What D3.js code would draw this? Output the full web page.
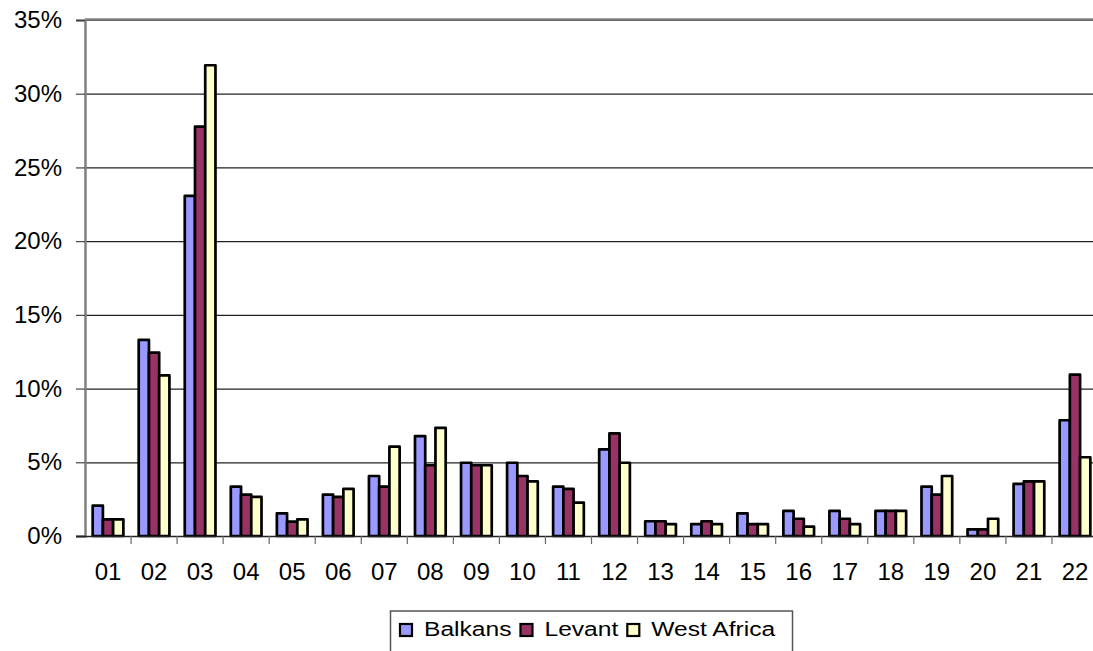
<!DOCTYPE html>
<html>
<head>
<meta charset="utf-8">
<script src="https://cdn.jsdelivr.net/npm/d3@7"></script>
<style>
  html, body { margin: 0; padding: 0; background: #fff; overflow: hidden; }
  svg { display: block; font-family: "Liberation Sans", Arial, sans-serif; }
</style>
</head>
<body>
<svg id="chart" width="1093" height="651"></svg>
<script>
// Category codes along the x axis
const categories = ["01","02","03","04","05","06","07","08","09","10","11",
                    "12","13","14","15","16","17","18","19","20","21","22"];

// Share of each category per region, in percent
const balkans    = [2.06, 13.3, 23.07, 3.35, 1.54, 2.8, 4.07, 6.78, 4.97, 4.97, 3.35,
                    5.88, 1.0, 0.81, 1.54, 1.7, 1.7, 1.7, 3.35, 0.45, 3.53, 7.85];
const levant     = [1.13, 12.44, 27.77, 2.8, 0.97, 2.65, 3.35, 4.8, 4.8, 4.07, 3.19,
                    6.96, 1.0, 1.0, 0.81, 1.17, 1.17, 1.7, 2.8, 0.45, 3.71, 10.94];
const westAfrica = [1.13, 10.9, 31.93, 2.65, 1.13, 3.19, 6.06, 7.33, 4.8, 3.71, 2.26,
                    4.97, 0.81, 0.81, 0.81, 0.63, 0.81, 1.7, 4.07, 1.17, 3.71, 5.34];

const seriesNames = ["Balkans", "Levant", "West Africa"];
const seriesColors = ["#9999FF", "#993366", "#FFFFCC"];
const yTicks = [0, 5, 10, 15, 20, 25, 30, 35];

const series = [balkans, levant, westAfrica];

const svg = d3.select("#chart");
const plot = { left: 85, right: 1098, top: 20, bottom: 536 };

const x0 = d3.scaleBand().domain(categories).range([plot.left, plot.right]).padding(0);
const step = x0.step();
const barW = step / 4.5;               // three bars plus a 150% gap
const groupOffset = step * 0.75 / 4.5;
const x1 = d3.scaleBand().domain(d3.range(series.length))
  .range([groupOffset, groupOffset + barW * 3]).padding(0);

const y = d3.scaleLinear().domain([0, 35]).range([plot.bottom, plot.top]);

// Horizontal gridlines
svg.append("g")
  .selectAll("line")
  .data(yTicks.filter(t => t > 0))
  .join("line")
  .attr("x1", plot.left).attr("x2", plot.right)
  .attr("y1", d => y(d) + 0.5).attr("y2", d => y(d) + 0.5)
  .attr("stroke", "#222").attr("stroke-width", 1.2);

// Bars
const groups = svg.append("g")
  .selectAll("g")
  .data(categories)
  .join("g")
  .attr("transform", d => `translate(${x0(d)},0)`);

groups.selectAll("rect")
  .data((c, i) => series.map((s, k) => ({ k, v: s[i] })))
  .join("rect")
  .attr("x", d => x1(d.k))
  .attr("y", d => y(d.v))
  .attr("width", x1.bandwidth())
  .attr("height", d => y(0) - y(d.v))
  .attr("fill", d => seriesColors[d.k])
  .attr("stroke", "#000")
  .attr("stroke-width", 2.7)
  .attr("stroke-linejoin", "round");

// Y axis
const yAxis = d3.axisLeft(y).tickValues(yTicks).tickFormat(d => d + "%").tickSize(9).tickPadding(14);
const gy = svg.append("g").attr("transform", `translate(${plot.left},0)`).call(yAxis);
gy.select(".domain").attr("stroke", "#808080").attr("stroke-width", 2.5);
gy.selectAll(".tick line").attr("stroke", "#444").attr("stroke-width", 1.2);
gy.selectAll(".tick text")
  .attr("font-size", 24).attr("fill", "#000")
  .attr("font-family", "'Liberation Sans', Arial, sans-serif");

// X axis: ticks at category boundaries, labels centred under each group
svg.append("line")
  .attr("x1", plot.left - 9).attr("x2", plot.right)
  .attr("y1", plot.bottom + 0.5).attr("y2", plot.bottom + 0.5)
  .attr("stroke", "#222").attr("stroke-width", 1.5);

svg.append("g")
  .selectAll("line")
  .data(categories)
  .join("line")
  .attr("x1", d => x0(d) + step).attr("x2", d => x0(d) + step)
  .attr("y1", plot.bottom).attr("y2", plot.bottom + 8)
  .attr("stroke", "#666").attr("stroke-width", 1.2);

svg.append("g")
  .selectAll("text")
  .data(categories)
  .join("text")
  .attr("x", d => x0(d) + step / 2)
  .attr("y", 580)
  .attr("text-anchor", "middle")
  .attr("font-size", 24)
  .text(d => d);

// Plot frame top edge
svg.append("line")
  .attr("x1", plot.left).attr("x2", plot.right)
  .attr("y1", plot.top - 0.5).attr("y2", plot.top - 0.5)
  .attr("stroke", "#808080").attr("stroke-width", 2.5);

// Legend
const legend = svg.append("g");
legend.append("rect")
  .attr("x", 390.5).attr("y", 611)
  .attr("width", 402).attr("height", 60)
  .attr("fill", "#fff").attr("stroke", "#555").attr("stroke-width", 1.5);

const sx = 1.23;
let cursor = 399;
seriesNames.forEach((name, k) => {
  legend.append("rect")
    .attr("x", cursor + 1).attr("y", 624)
    .attr("width", 12).attr("height", 12)
    .attr("fill", seriesColors[k]).attr("stroke", "#000").attr("stroke-width", 2.2);
  const t = legend.append("text")
    .attr("transform", `translate(${cursor + 25},636) scale(${sx},1)`)
    .attr("font-size", 20)
    .text(name);
  cursor += 25 + t.node().getComputedTextLength() * sx + 8;
});
</script>
</body>
</html>
